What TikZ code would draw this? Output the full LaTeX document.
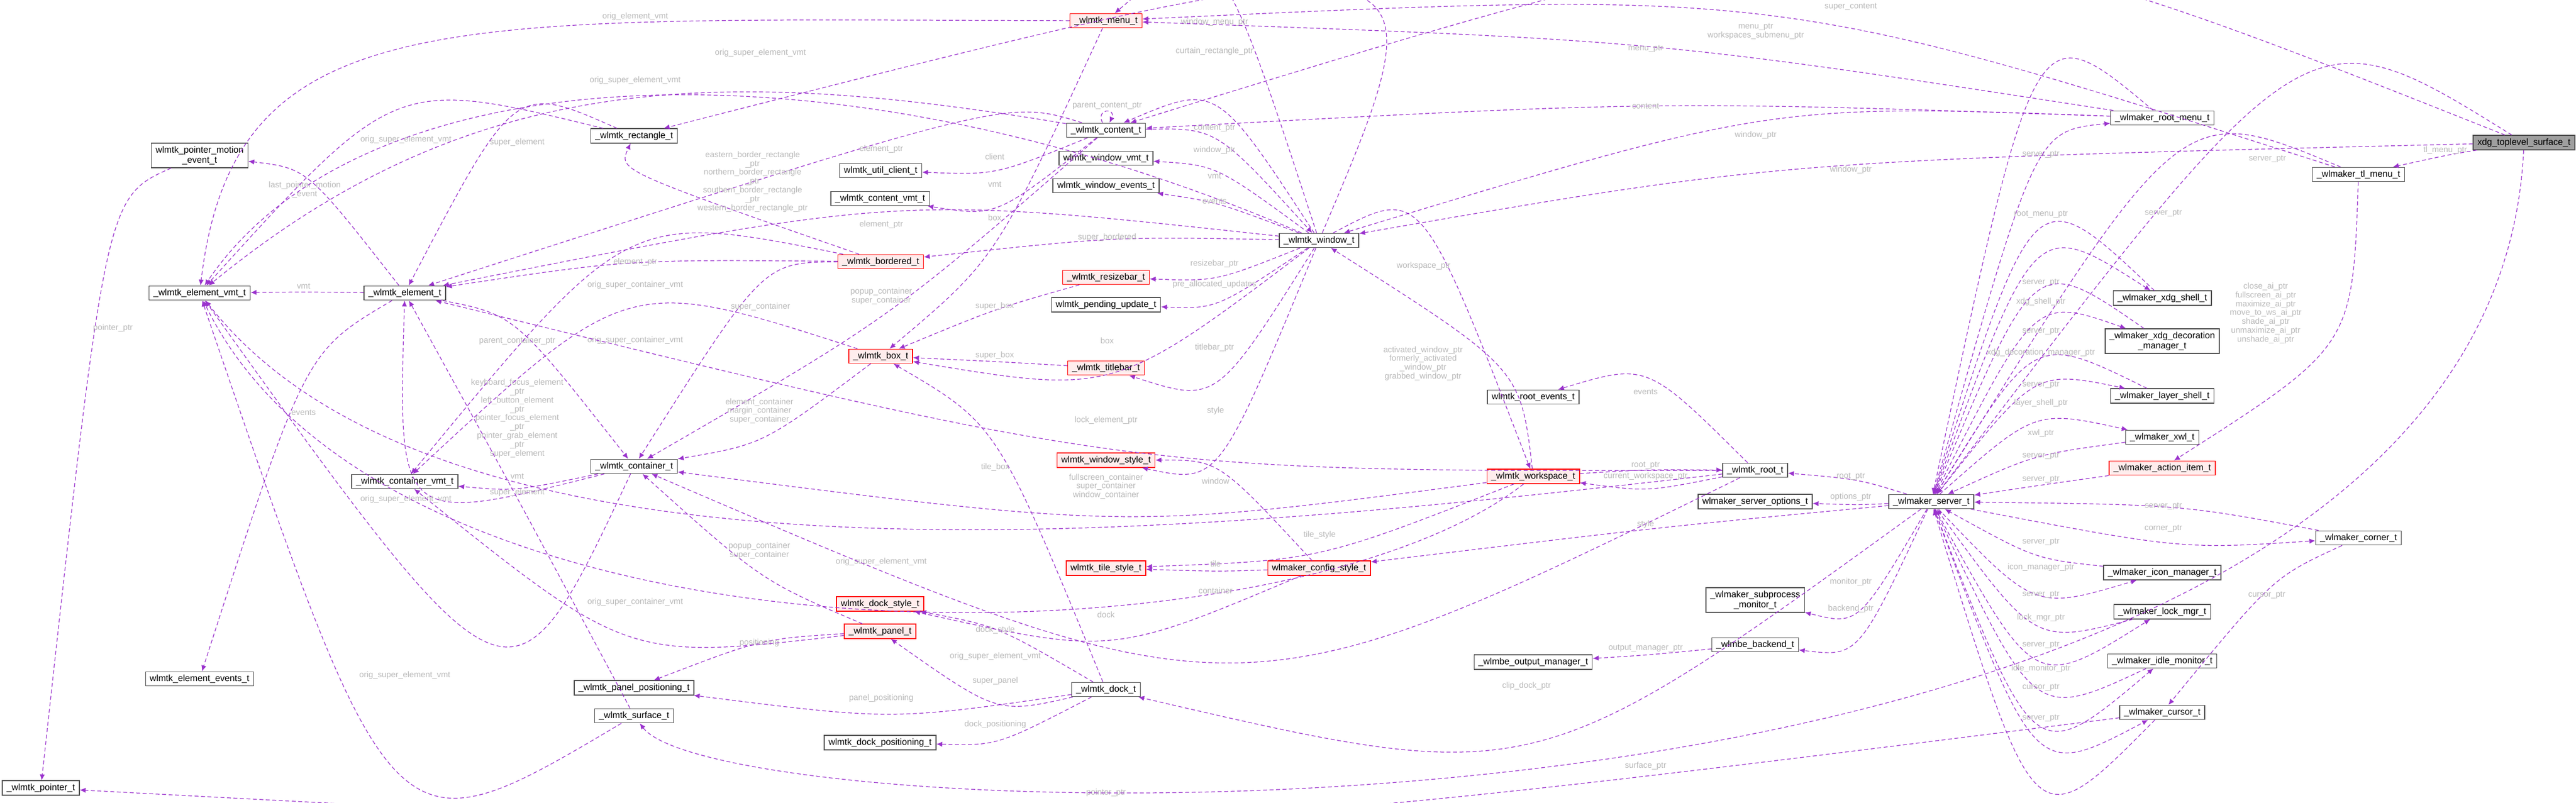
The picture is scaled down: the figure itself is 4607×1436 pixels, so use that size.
\documentclass[tikz,border=0pt]{standalone}
\usepackage{fontspec}
\setmainfont{Liberation Sans}
\usetikzlibrary{calc,arrows.meta}
\definecolor{edgepurple}{HTML}{9A32CD}
\tikzset{
  cls/.style={draw=gray!60!black,fill=white,rectangle,inner xsep=2.2pt,inner ysep=1.5pt,
    minimum height=0.25cm,align=center,font=\fontsize{4.6}{5.2}\selectfont},
  redcls/.style={cls,draw=red,fill=red!7},
  rootcls/.style={cls,fill=gray!75},
  ed/.style={draw=edgepurple,dash pattern=on 2pt off 1.3pt,line width=0.35pt,
    -{Latex[length=3pt,width=2.6pt]}},
  lbl/.style={text=gray!55,align=center,inner sep=0pt,font=\fontsize{4.2}{4.5}\selectfont}
}
% connector through a given point, label at another point
\newcommand\connv[5]{%
  \draw[ed] (#1) .. controls ($($(#1)!.5!(#2)$)!2!(#3)$) .. (#2);
  \node[lbl] at (#4) {#5};}
\newcommand\conn[4]{\connv{#1}{#2}{$(#3)+(0,11)$}{#3}{#4}}
% connector with two control points
\newcommand\connc[6]{%
  \draw[ed] (#1) .. controls (#3) and (#4) .. (#2);
  \node[lbl] at (#5) {#6};}
\begin{document}
\catcode`\_=12
\begin{tikzpicture}[x=0.01cm,y=-0.01cm]
\useasboundingbox[fill=white] (0,0) rectangle (4607,1436);
% nodes
\node[cls] (pme) at (357,278) {wlmtk_pointer_motion\\_event_t};
\node[cls] (elemvmt) at (357,524) {_wlmtk_element_vmt_t};
\node[cls] (elem) at (724,524) {_wlmtk_element_t};
\node[cls] (rect) at (1134,243) {_wlmtk_rectangle_t};
\node[redcls] (menu) at (1978,37) {_wlmtk_menu_t};
\node[cls] (content) at (1978,233) {_wlmtk_content_t};
\node[cls] (utilclient) at (1575,305) {wlmtk_util_client_t};
\node[cls] (contentvmt) at (1574,355) {_wlmtk_content_vmt_t};
\node[cls] (windowvmt) at (1978,283) {wlmtk_window_vmt_t};
\node[cls] (windowevents) at (1978,332) {wlmtk_window_events_t};
\node[cls] (window) at (2359,430) {_wlmtk_window_t};
\node[redcls] (bord) at (1575,468) {_wlmtk_bordered_t};
\node[redcls] (resize) at (1978,496) {_wlmtk_resizebar_t};
\node[cls] (pending) at (1978,545) {wlmtk_pending_update_t};
\node[redcls] (box) at (1575,637) {_wlmtk_box_t};
\node[redcls] (titlebar) at (1978,658) {_wlmtk_titlebar_t};
\node[cls] (rootevents) at (2742,710) {wlmtk_root_events_t};
\node[cls] (rootmenu) at (3867,211) {_wlmaker_root_menu_t};
\node[rootcls] (xdg) at (4514,255) {xdg_toplevel_surface_t};
\node[cls] (tlmenu) at (4218,312) {_wlmaker_tl_menu_t};
\node[cls] (xdgshell) at (3867,533) {_wlmaker_xdg_shell_t};
\node[cls] (deco) at (3867,610) {_wlmaker_xdg_decoration\\_manager_t};
\node[cls] (layer) at (3867,708) {_wlmaker_layer_shell_t};
\node[cls] (cont) at (1134,834) {_wlmtk_container_t};
\node[cls] (contvmt) at (724,861) {_wlmtk_container_vmt_t};
\node[cls] (elevents) at (357,1214) {wlmtk_element_events_t};
\node[cls] (panelpos) at (1134,1230) {_wlmtk_panel_positioning_t};
\node[cls] (surf) at (1134,1280) {_wlmtk_surface_t};
\node[cls] (ptr) at (73,1409) {_wlmtk_pointer_t};
\node[redcls] (windowstyle) at (1978,823) {wlmtk_window_style_t};
\node[redcls] (tilestyle) at (1978,1016) {wlmtk_tile_style_t};
\node[redcls] (config) at (2359,1016) {wlmaker_config_style_t};
\node[redcls] (dockstyle) at (1574,1080) {wlmtk_dock_style_t};
\node[redcls] (panel) at (1574,1129) {_wlmtk_panel_t};
\node[cls] (dock) at (1978,1233) {_wlmtk_dock_t};
\node[cls] (dockpos) at (1574,1328) {wlmtk_dock_positioning_t};
\node[redcls] (workspace) at (2742,852) {_wlmtk_workspace_t};
\node[cls] (root) at (3139,841) {_wlmtk_root_t};
\node[cls] (options) at (3139,897) {wlmaker_server_options_t};
\node[cls] (server) at (3454,897) {_wlmaker_server_t};
\node[cls] (monitor) at (3139,1073) {_wlmaker_subprocess\\_monitor_t};
\node[cls] (backend) at (3139,1153) {_wlmbe_backend_t};
\node[cls] (outmgr) at (2742,1184) {_wlmbe_output_manager_t};
\node[cls] (xwl) at (3867,782) {_wlmaker_xwl_t};
\node[redcls] (action) at (3867,837) {_wlmaker_action_item_t};
\node[cls] (corner) at (4218,962) {_wlmaker_corner_t};
\node[cls] (icon) at (3867,1024) {_wlmaker_icon_manager_t};
\node[cls] (lock) at (3867,1094) {_wlmaker_lock_mgr_t};
\node[cls] (idle) at (3867,1182) {_wlmaker_idle_monitor_t};
\node[cls] (cursor) at (3867,1274) {_wlmaker_cursor_t};
% toolkit connectors
\conn{elem}{elemvmt}{543,512}{vmt}
\conn{elem}{pme}{545,340}{last_pointer_motion\\_event}
\conn{elem}{elevents}{543,738}{events}
\conn{pme}{ptr}{202,587}{pointer_ptr}
\connv{cont}{elem}{820,810}{925,748}{keyboard_focus_element\\_ptr\\left_button_element\\_ptr\\pointer_focus_element\\_ptr\\pointer_grab_element\\_ptr\\super_element}
\conn{cont}{contvmt}{925,852}{vmt}
\connv{cont}{elemvmt}{830,990}{726,893}{orig_super_element_vmt}
\conn{elem}{cont}{925,610}{parent_container_ptr}
\conn{rect}{elem}{925,255}{super_element}
\conn{rect}{elemvmt}{726,250}{orig_super_element_vmt}
\connc{menu}{elemvmt}{800,35}{420,0}{1136,30}{orig_element_vmt}
\connc{content}{elemvmt}{1300,120}{850,120}{1136,144}{orig_super_element_vmt}
\connc{window}{elemvmt}{1500,60}{650,90}{1360,95}{orig_super_element_vmt}
\conn{content}{elem}{1576,267}{element_ptr}
\path (content) edge[ed,out=115,in=65,looseness=6] (content);
\node[lbl] at (1980,189) {parent_content_ptr};
\conn{content}{utilclient}{1779,280}{client}
\conn{content}{contentvmt}{1779,330}{vmt}
\conn{menu}{box}{1779,389}{box}
\connv{content}{cont}{1576,550}{1576,530}{popup_container\\super_container}
\connv{bord}{rect}{1230,330}{1346,325}{eastern_border_rectangle\\_ptr\\northern_border_rectangle\\_ptr\\southern_border_rectangle\\_ptr\\western_border_rectangle_ptr}
\conn{window}{elem}{1576,402}{element_ptr}
\conn{bord}{elem}{1136,469}{element_ptr}
\conn{bord}{cont}{1360,549}{super_container}
\conn{bord}{contvmt}{1136,510}{orig_super_container_vmt}
\conn{window}{bord}{1980,425}{super_bordered}
\conn{window}{menu}{2172,40}{window_menu_ptr}
\conn{window}{rect}{2172,92}{curtain_rectangle_ptr}
\conn{window}{content}{2172,229}{content_ptr}
\conn{content}{window}{2172,269}{window_ptr}
\conn{window}{windowvmt}{2172,315}{vmt}
\conn{window}{windowevents}{2172,360}{events}
\conn{window}{resize}{2172,472}{resizebar_ptr}
\conn{window}{pending}{2172,509}{pre_allocated_updates}
\conn{window}{box}{1980,609}{box}
\conn{window}{titlebar}{2172,622}{titlebar_ptr}
\conn{titlebar}{box}{1779,636}{super_box}
\conn{resize}{box}{1779,548}{super_box}
\connv{box}{cont}{1360,765}{1358,735}{element_container\\margin_container\\super_container}
\conn{box}{contvmt}{1136,609}{orig_super_container_vmt}
% workspace, root and styles
\conn{window}{workspace}{2546,476}{workspace_ptr}
\connv{workspace}{window}{2635,650}{2545,650}{activated_window_ptr\\formerly_activated\\_window_ptr\\grabbed_window_ptr}
\conn{workspace}{root}{2943,832}{root_ptr}
\conn{root}{workspace}{2943,852}{current_workspace_ptr}
\connv{workspace}{cont}{1978,895}{1978,870}{fullscreen_container\\super_container\\window_container}
\conn{workspace}{tilestyle}{2360,957}{tile_style}
\connc{workspace}{elemvmt}{2300,1200}{700,1230}{1780,1174}{orig_super_element_vmt}
\connc{root}{elemvmt}{2100,960}{800,1090}{1576,1005}{orig_super_element_vmt}
\conn{root}{rootevents}{2943,701}{events}
\conn{root}{cont}{2174,1056}{container}
\conn{root}{elem}{1978,752}{lock_element_ptr}
\conn{window}{windowstyle}{2174,735}{style}
\conn{config}{windowstyle}{2174,860}{window}
\conn{config}{tilestyle}{2174,1008}{tile}
\conn{config}{dockstyle}{1978,1099}{dock}
\conn{dock}{dockstyle}{1780,1127}{dock_style}
\conn{dock}{panel}{1780,1218}{super_panel}
\conn{dock}{panelpos}{1576,1249}{panel_positioning}
\conn{dock}{dockpos}{1780,1296}{dock_positioning}
\conn{dock}{box}{1780,836}{tile_box}
\connv{panel}{cont}{1358,1010}{1358,985}{popup_container\\super_container}
\conn{panel}{panelpos}{1358,1150}{positioning}
\conn{panel}{contvmt}{1136,1077}{orig_super_container_vmt}
\conn{surf}{elemvmt}{724,1208}{orig_super_element_vmt}
\conn{surf}{elem}{925,881}{super_element}
\connv{cursor}{ptr}{1978,1426}{1978,1418}{pointer_ptr}
% toplevel and menus
\connc{xdg}{surf}{4450,1600}{1300,1500}{2943,1370}{surface_ptr}
\conn{xdg}{content}{3310,12}{super_content}
\connv{tlmenu}{menu}{3140,78}{3140,56}{menu_ptr\\workspaces_submenu_ptr}
\conn{rootmenu}{menu}{2943,87}{menu_ptr}
\conn{rootmenu}{content}{2943,190}{content}
\conn{rootmenu}{window}{3140,242}{window_ptr}
\conn{xdg}{window}{3310,304}{window_ptr}
\conn{xdg}{tlmenu}{4373,269}{tl_menu_ptr}
\conn{xdg}{server}{4055,284}{server_ptr}
\conn{rootmenu}{server}{3650,276}{server_ptr}
\conn{server}{rootmenu}{3650,383}{root_menu_ptr}
\conn{tlmenu}{server}{3869,381}{server_ptr}
\connv{tlmenu}{action}{4125,597}{4052,560}{close_ai_ptr\\fullscreen_ai_ptr\\maximize_ai_ptr\\move_to_ws_ai_ptr\\shade_ai_ptr\\unmaximize_ai_ptr\\unshade_ai_ptr}
% server
\conn{xdgshell}{server}{3650,505}{server_ptr}
\conn{server}{xdgshell}{3650,540}{xdg_shell_ptr}
\conn{deco}{server}{3650,592}{server_ptr}
\conn{server}{deco}{3650,631}{xdg_decoration_manager_ptr}
\conn{layer}{server}{3650,688}{server_ptr}
\conn{server}{layer}{3650,721}{layer_shell_ptr}
\conn{server}{xwl}{3650,775}{xwl_ptr}
\conn{xwl}{server}{3650,815}{server_ptr}
\conn{action}{server}{3650,857}{server_ptr}
\conn{corner}{server}{3869,905}{server_ptr}
\conn{server}{corner}{3869,945}{corner_ptr}
\conn{icon}{server}{3650,969}{server_ptr}
\conn{server}{icon}{3650,1015}{icon_manager_ptr}
\conn{lock}{server}{3650,1063}{server_ptr}
\conn{server}{lock}{3650,1105}{lock_mgr_ptr}
\conn{idle}{server}{3650,1153}{server_ptr}
\conn{server}{idle}{3650,1196}{idle_monitor_ptr}
\conn{server}{cursor}{3650,1229}{cursor_ptr}
\conn{cursor}{server}{3650,1284}{server_ptr}
\conn{corner}{cursor}{4054,1064}{cursor_ptr}
\conn{server}{root}{3310,852}{root_ptr}
\conn{server}{options}{3310,889}{options_ptr}
\conn{server}{config}{2943,938}{style}
\conn{server}{monitor}{3310,1041}{monitor_ptr}
\conn{server}{backend}{3310,1089}{backend_ptr}
\conn{backend}{outmgr}{2943,1159}{output_manager_ptr}
\conn{server}{dock}{2730,1227}{clip_dock_ptr}
\end{tikzpicture}
\end{document}
